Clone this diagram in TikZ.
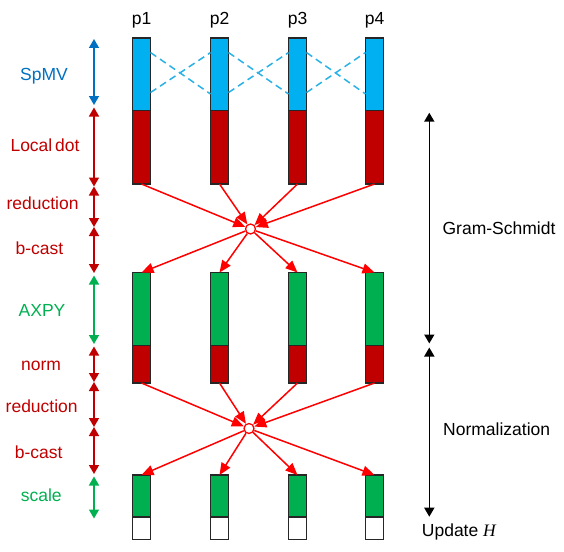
\documentclass[tikz,border=0pt]{standalone}
\usepackage{fontspec}
\setmainfont{Liberation Sans}
\newfontfamily\seritfont{Liberation Serif}
\usetikzlibrary{arrows.meta,calc}
\definecolor{cblue}{HTML}{00B0F0}
\definecolor{cred}{HTML}{C00000}
\definecolor{cgreen}{HTML}{00B050}
\definecolor{tblue}{HTML}{0070C0}
\definecolor{dblue}{HTML}{2AB2E6}
\definecolor{arrred}{HTML}{FF0000}
\begin{document}
\begin{tikzpicture}[x=1pt,y=-1pt,
  seg/.style={draw=black!85,line width=1.3pt,minimum width=18pt,inner sep=0pt,outer sep=0pt},
  commline/.style={draw=dblue,line width=1.5pt,dash pattern=on 7pt off 4.5pt},
  redarr/.style={draw=arrred,line width=1.5pt,-{Triangle[length=12pt,width=10pt]}},
  dot/.style={circle,draw=arrred,fill=white,line width=1.3pt,minimum size=10pt,inner sep=0pt},
  phase/.style={line width=1.6pt,{Triangle[length=9pt,width=10pt]}-{Triangle[length=9pt,width=10pt]}},
  lab/.style={font=\fontsize{17.5}{20}\selectfont,anchor=base,inner sep=0pt},
]
\path[use as bounding box] (0,0) rectangle (564,551);

\foreach \i/\x in {1/141.5,2/219.5,3/297.5,4/374.5}{
  \node[lab] (p\i) at (\x,25) {p\i};
  \node[seg,fill=cblue,minimum height=72.7pt] (b\i) at (\x,74.35) {};
  \node[seg,fill=cred,minimum height=73.3pt] (r\i) at (\x,147.35) {};
  \node[seg,fill=cgreen,minimum height=73.2pt] (g\i) at (\x,309.1) {};
  \node[seg,fill=cred,minimum height=37.3pt] (n\i) at (\x,364.35) {};
  \node[seg,fill=cgreen,minimum height=42pt] (s\i) at (\x,496) {};
  \node[seg,fill=white,minimum height=22.5pt] (w\i) at (\x,528.25) {};
}

\foreach \i/\j in {1/2,2/3,3/4}{
  \draw[commline] ($(b\i.north east)!0.2!(b\i.south east)$) -- ($(b\j.north west)!0.77!(b\j.south west)$);
  \draw[commline] ($(b\i.north east)!0.75!(b\i.south east)$) -- ($(b\j.north west)!0.2!(b\j.south west)$);
}

\node[dot] (c1) at (250.5,229) {};
\node[dot] (c2) at (249,428.5) {};
\foreach \i in {1,2,3,4}{
  \draw[redarr] (r\i.south) -- (c1);
  \draw[redarr] (c1) -- (g\i.north);
  \draw[redarr] (n\i.south) -- (c2);
  \draw[redarr] (c2) -- (s\i.north);
}

% left phase arrows
\coordinate (L0) at (94,39);
\coordinate (L1) at (94,105);
\coordinate (L2) at (94,107.5);
\coordinate (L3) at (94,186.5);
\coordinate (L4) at (94,227);
\coordinate (L5) at (94,273);
\coordinate (L6) at (94,275.5);
\coordinate (L7) at (94,344);
\coordinate (L8) at (94,346.5);
\coordinate (L9) at (94,382);
\coordinate (L10) at (94,427);
\coordinate (L11) at (94,474);
\coordinate (L12) at (94,476.5);
\coordinate (L13) at (94,518.5);
\draw[phase,tblue] (L0) -- (L1);
\draw[phase,cred] (L2) -- (L3);
\draw[phase,cred] (L3) -- (L4);
\draw[phase,cred] (L4) -- (L5);
\draw[phase,cgreen] (L6) -- (L7);
\draw[phase,cred] (L8) -- (L9);
\draw[phase,cred] (L9) -- (L10);
\draw[phase,cred] (L10) -- (L11);
\draw[phase,cgreen] (L12) -- (L13);

\node[lab,text=tblue] (t1) at (44,80) {SpMV};
\node[lab,text=cred] (t2) at (45,151) {Local\hspace{-0.12em} dot};
\node[lab,text=cred] (t3) at (42.5,209) {reduction};
\node[lab,text=cred] (t4) at (39.5,254.5) {b-cast};
\node[lab,text=cgreen] (t5) at (42,316) {AXPY};
\node[lab,text=cred] (t6) at (41,370) {norm};
\node[lab,text=cred] (t7) at (41.7,412.5) {reduction};
\node[lab,text=cred] (t8) at (38.7,458.3) {b-cast};
\node[lab,text=cgreen] (t9) at (41.3,501.7) {scale};

% right phase arrows
\coordinate (R0) at (429.3,112.7);
\coordinate (R1) at (429.3,343.5);
\coordinate (R2) at (429.3,347.5);
\coordinate (R3) at (429.3,516.7);
\draw[phase,black] (R0) -- (R1);
\draw[phase,black] (R2) -- (R3);
\node[lab] (gs) at (499,234) {Gram-Schmidt};
\node[lab] (nm) at (496.7,435) {Normalization};
\node[lab,anchor=base west] (up) at (421.7,536.7) {Update \seritfont\itshape H};
\end{tikzpicture}
\end{document}
